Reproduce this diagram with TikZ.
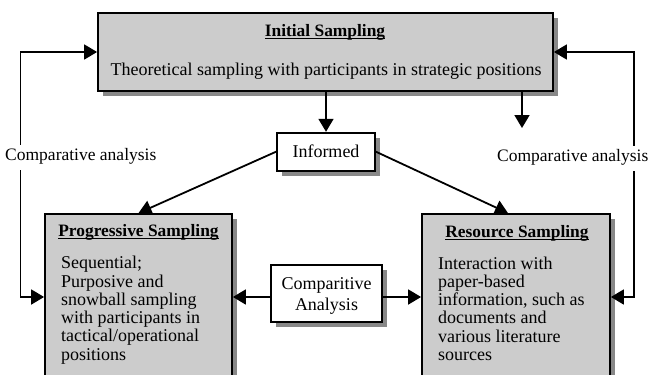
\documentclass[tikz,border=0pt]{standalone}
\usepackage{fontspec}
\setmainfont{Liberation Serif}
\usetikzlibrary{arrows.meta,shadows}
\definecolor{boxfill}{RGB}{204,204,204}
\definecolor{shade}{RGB}{136,136,136}
% underlined heading with the rule close under the baseline
\newcommand\headline[1]{\setbox0=\hbox{#1}\rlap{\rule[-2.4pt]{\wd0}{1.1pt}}\box0}
\tikzset{
  sampbox/.style={draw=black, line width=1.8pt, fill=boxfill,
    drop shadow={shadow xshift=5pt, shadow yshift=-5pt, fill=shade, opacity=1}},
  whitebox/.style={draw=black, line width=1.8pt, fill=white, align=center,
    font=\fontsize{18}{20.5}\selectfont,
    drop shadow={shadow xshift=5pt, shadow yshift=-5pt, fill=shade, opacity=1}},
  txt/.style={font=\fontsize{18}{18.3}\selectfont, inner sep=0pt},
  ttl/.style={font=\fontsize{17.4}{18.3}\selectfont\bfseries, inner sep=0pt},
  side/.style={font=\fontsize{17.5}{18.3}\selectfont, inner sep=0pt, fill=white,
    text height=15pt, text depth=10pt},
  link/.style={line width=1.8pt, -{Triangle[length=13pt,width=15pt]}},
  twoway/.style={line width=1.8pt,
    {Triangle[length=13pt,width=15pt]}-{Triangle[length=13pt,width=15pt]}},
}
\begin{document}
\begin{tikzpicture}[x=1pt,y=-1pt]
\useasboundingbox (0,0) rectangle (651,375);
\clip (0,0) rectangle (651,375);

% boxes
\node[sampbox, minimum width=455pt, minimum height=78pt] (init) at (325.5,52.3) {};
\node[whitebox, minimum width=98pt, minimum height=38pt] (inf) at (326,151.7) {Informed};
\node[whitebox, minimum width=111pt, minimum height=56.7pt] (comp) at (326.2,293.4) {};
\node[sampbox, minimum width=187pt, minimum height=190pt] (prog) at (138.5,309) {};
\node[sampbox, minimum width=188pt, minimum height=190pt] (res) at (516,309) {};

% box texts (multi-line texts are placed by the baseline of their last line)
\node[ttl, anchor=base] (initT) at (325,36.7) {\headline{Initial Sampling}};
\node[txt, anchor=base] (initB) at (326,75) {Theoretical sampling with participants in strategic positions};
\node[txt, anchor=base, align=center, font=\fontsize{18}{20.5}\selectfont] (compT) at (326.5,310)
  {Comparitive\\Analysis};
\node[ttl, anchor=base] (progT) at (138.5,236.7) {\headline{Progressive Sampling}};
\node[txt, anchor=base west, align=left] (progB) at (61,360.2)
  {Sequential;\\Purposive and\\snowball sampling\\with participants in\\tactical/operational\\positions};
\node[ttl, anchor=base] (resT) at (517,237.5) {\headline{Resource Sampling}};
\node[txt, anchor=base west, align=left] (resB) at (438,360.5)
  {Interaction with\\paper-based\\information, such as\\documents and\\various literature\\sources};

% routing points
\coordinate (lt) at (20.5,52);
\coordinate (lb) at (20.5,297);
\coordinate (rt) at (634,52);
\coordinate (rb) at (634,297);
\coordinate (drop) at (522,128);
\coordinate (cmid) at (326,297);

% connectors
\draw[link] (init.south -| inf.north) -- (inf.north);
\draw[link] (init.south -| drop) -- (drop);
\draw[link] (inf.west) -- (prog.north);
\draw[link] (inf.east) -- ([xshift=-8pt]res.north);
\draw[link] (comp.west |- cmid) -- (prog.east |- cmid);
\draw[link] (comp.east |- cmid) -- (res.west |- cmid);
\draw[twoway] (init.west |- lt) -- (lt) -- (lb) -- (prog.west |- lb);
\draw[twoway] (init.east |- rt) -- (rt) -- (rb) -- (res.east |- rb);

% side labels, blanking the loop lines behind them
\node[side, anchor=base west] (cmpL) at (5,160) {Comparative analysis};
\node[side, anchor=base east] (cmpR) at (648.5,161) {Comparative analysis};
\end{tikzpicture}
\end{document}
